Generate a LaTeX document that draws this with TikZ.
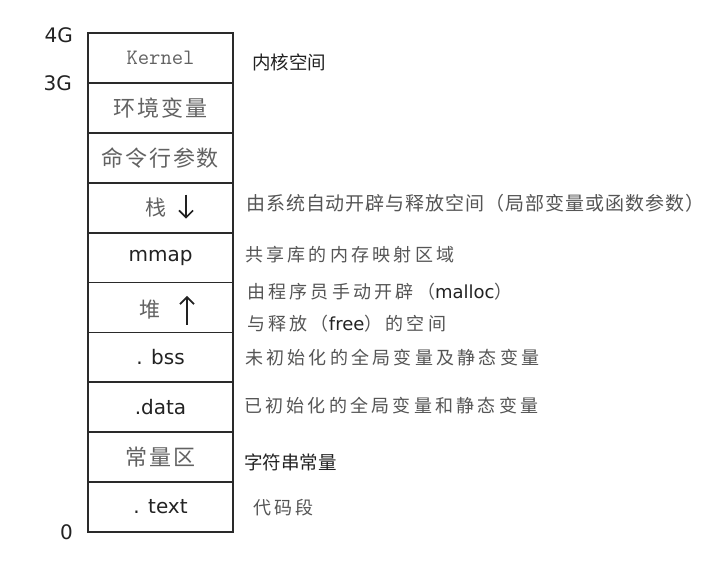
\documentclass[tikz,border=0pt]{standalone}
\usepackage{fontspec}
\setmainfont{DejaVu Sans}
\newfontfamily\cjk{Noto Sans CJK SC}
\newfontfamily\cjkbox[LetterSpace=8]{Noto Sans CJK SC}
\newfontfamily\cjknote[LetterSpace=18]{Noto Sans CJK SC}
\newfontfamily\cjkline[LetterSpace=5]{Noto Sans CJK SC}
\usetikzlibrary{positioning,calc,arrows.meta}

\definecolor{ink}{HTML}{222222}
\definecolor{linecol}{HTML}{2A2A2A}
\definecolor{boxgray}{HTML}{626262}
\definecolor{notegray}{HTML}{555555}

\tikzset{
  seg/.style={rectangle, draw=linecol, line width=1.8pt, minimum width=145pt, minimum height=49.9pt,
              inner sep=0pt, outer sep=0pt, text=ink, font=\fontsize{20}{24}\selectfont},
  segcn/.style={seg, text=boxgray, font=\cjkbox\fontsize{22}{26}\selectfont},
  note/.style={inner sep=0pt, text=notegray, font=\cjknote\fontsize{18}{22}\selectfont},
  darknote/.style={inner sep=0pt, text=ink, font=\cjk\fontsize{18.5}{22}\selectfont},
  addr/.style={inner sep=0pt, text=ink, font=\fontsize{20}{24}\selectfont},
  growarrow/.style={draw=ink, line width=1.7pt, -{Straight Barb[length=7pt,width=14pt,line width=1.7pt]}}
}

\begin{document}
\begin{tikzpicture}[x=1pt,y=-1pt]
    \useasboundingbox (0,0) rectangle (706,568);

    % the address space, top to bottom
    \node(kern) [seg, text=boxgray, font=\ttfamily\fontsize{22}{26}\selectfont] at (160.5,57.95) {Kernel};
    \node(env) [segcn, below=0pt of kern] {环境变量};
    \node(args) [segcn, below=0pt of env] {命令行参数};
    \node(stk) [seg, below=0pt of args] {};
    \node(mmap) [seg, below=0pt of stk] {mmap};
    \node(heap) [seg, below=0pt of mmap] {};
    \node(bss) [seg, below=0pt of heap] {. bss};
    \node(data) [seg, below=0pt of bss] {.data};
    \node(rodata) [segcn, below=0pt of data] {常量区};
    \node(code) [seg, below=0pt of rodata] {. text};

    % addresses
    \node(top) [addr, left=15pt of kern.north west, yshift=-2pt] {4G};
    \node(three) [addr, left=16pt of env.north west] {3G};
    \node(zero) [addr, left=15pt of code.south west] {0};

    % stack grows down, heap grows up
    \node(stktxt) [text=boxgray, font=\cjk\fontsize{21}{24}\selectfont] at ($(stk.center)+(-5,0)$) {栈};
    \coordinate (stkfrom) at ($(stk.center)+(25.5,-13)$);
    \coordinate (stkto) at ($(stk.center)+(25.5,11)$);
    \draw[growarrow] (stkfrom) -- (stkto);
    \node(heaptxt) [text=boxgray, font=\cjk\fontsize{21}{24}\selectfont] at ($(heap.center)+(-10.5,2)$) {堆};
    \coordinate (heapfrom) at ($(heap.center)+(26.5,17.5)$);
    \coordinate (heapto) at ($(heap.center)+(26.5,-11.5)$);
    \draw[growarrow] (heapfrom) -- (heapto);

    % what each part holds
    \node(kernnote) [darknote, right=19pt of kern, yshift=-4pt] {内核空间};
    \node(stknote) [note, font=\cjkline\fontsize{19}{22}\selectfont, right=13pt of stk, yshift=4.6pt] {由系统自动开辟与释放空间（局部变量或函数参数）};
    \node(mmapnote) [note, right=12pt of mmap, yshift=2.5pt] {共享库的内存映射区域};
    \node(mallocnote) [note, right=14pt of heap, yshift=15.5pt] {由程序员手动开辟（{\fontspec{DejaVu Sans}\color{ink}malloc}）};
    \node(freenote) [note, right=14pt of heap, yshift=-16.5pt] {与释放（{\fontspec{DejaVu Sans}\color{ink}free}）的空间};
    \node(bssnote) [note, right=12pt of bss, yshift=-0.6pt] {未初始化的全局变量及静态变量};
    \node(datanote) [note, right=11pt of data, yshift=1.2pt] {已初始化的全局变量和静态变量};
    \node(rodatanote) [darknote, right=11pt of rodata, yshift=-5pt] {字符串常量};
    \node(codenote) [note, right=20pt of code, yshift=-1pt] {代码段};
\end{tikzpicture}
\end{document}
